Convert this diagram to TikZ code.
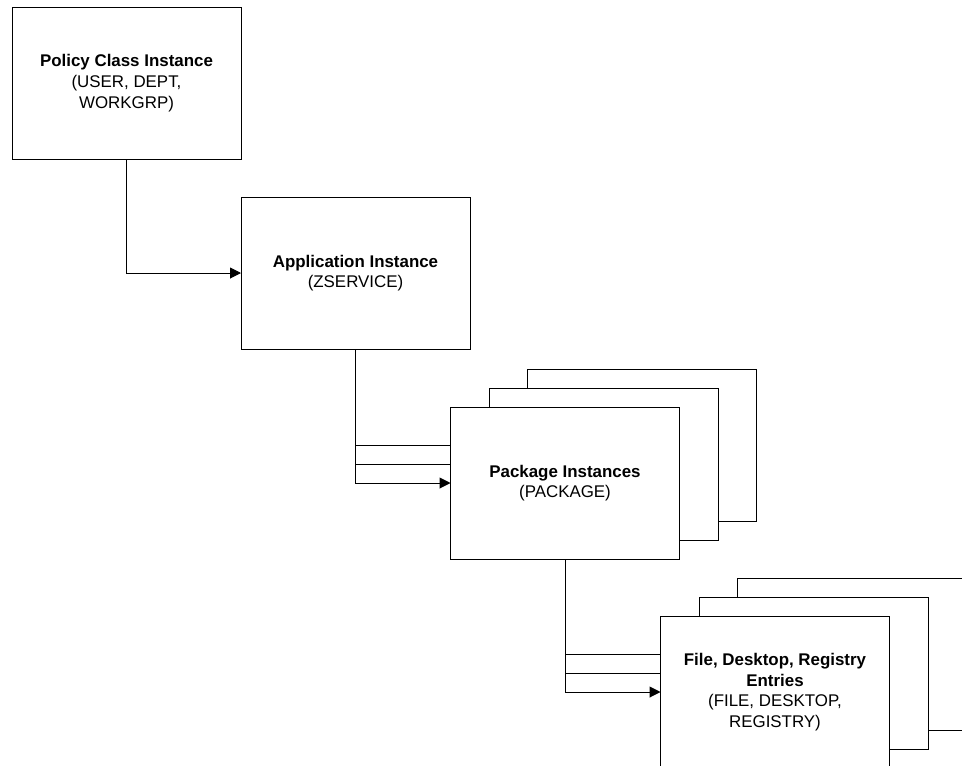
\documentclass[tikz,border=0pt]{standalone}
\usepackage{fontspec}
\setmainfont{Liberation Sans}
\usetikzlibrary{arrows.meta,backgrounds}
\tikzset{
  box/.style={draw=black, fill=white, line width=1pt, minimum width=229pt, minimum height=152pt,
    inner sep=0pt, outer sep=0pt, align=center, font=\fontsize{16.9}{20.7}\selectfont},
  conn/.style={draw=black, line width=1pt},
  arr/.style={conn, -{Triangle[length=11pt,width=11pt]}}
}
\begin{document}
\begin{tikzpicture}[x=1pt,y=-1pt]
\useasboundingbox (0,0) rectangle (962,766);
\clip (0,0) rectangle (962,766);
% policy and application
\node[box] (pol) at (126.5,83) {\textbf{Policy Class Instance}\\(USER, DEPT,\\WORKGRP)};
\node[box] (app) at (355.5,273) {\textbf{Application Instance}\\(ZSERVICE)};
% package stack
\node[box] (pkg3) at (642,445) {};
\node[box] (pkg2) at (603.5,464) {};
\node[box] (pkg) at (565,483) {\textbf{Package Instances}\\(PACKAGE)};
% file stack
\node[box] (file3) at (852,654) {};
\node[box] (file2) at (813.5,673) {};
\node[box] (file) at (775,692) {\textbf{File, Desktop, Registry}\\\textbf{Entries}\\(FILE, DESKTOP,\\REGISTRY)};
\begin{scope}[on background layer]
\draw[arr] (pol.south) |- (app.west);
\draw[conn] (app.south) |- (pkg3.west);
\draw[conn] (app.south) |- (pkg2.west);
\draw[arr] (app.south) |- (pkg.west);
\draw[conn] (pkg.south) |- (file3.west);
\draw[conn] (pkg.south) |- (file2.west);
\draw[arr] (pkg.south) |- (file.west);
\end{scope}
\end{tikzpicture}
\end{document}
